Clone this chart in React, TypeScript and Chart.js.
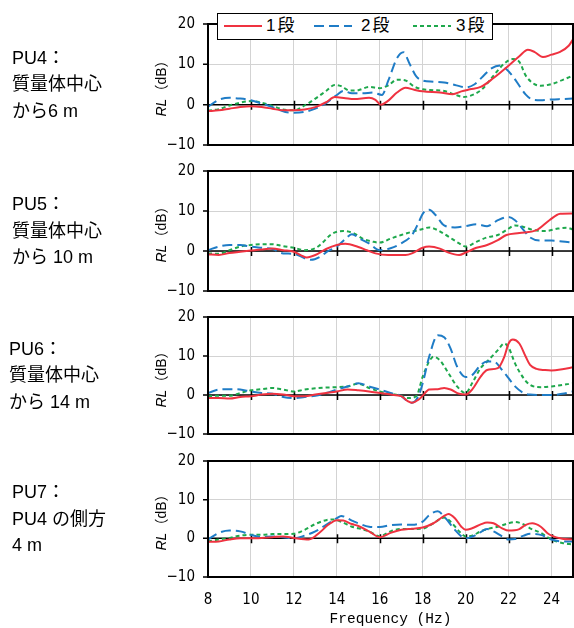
import { useEffect, useRef } from 'react';
import { Chart, registerables } from 'chart.js';

Chart.register(...registerables);

type Pt = [number, number];

// Frequency axis (Hz) and response level axis (dB)
const X_MIN = 8;
const X_MAX = 25;
const X_STEP = 2;
const Y_MIN = -10;
const Y_MAX = 20;
const Y_GRID_STEP = 5;
const Y_LABEL_STEP = 10;

const STAGE_LABELS = ['1段', '2段', '3段'];
const X_TITLE = 'Frequency (Hz)';

// PU4 : 6 m from the mass centre
const PU4_STAGE1: Pt[] = [[8, -1.6], [8.5, -1.4], [9, -1], [9.5, -0.6], [10, -0.4], [10.5, -0.6], [11, -1], [11.5, -1.4], [12, -1.4], [12.5, -1.2], [13, -0.6], [13.5, 0.6], [13.9, 1.9], [14.4, 1.6], [14.8, 1.4], [15.5, 1.7], [15.8, 1.2], [16.05, 0], [16.4, 1], [16.8, 3], [17.2, 4.2], [17.6, 3.7], [18, 3.3], [18.8, 3], [19.4, 2.6], [19.8, 3.3], [20.2, 3.8], [20.7, 4.4], [21.3, 6.6], [21.9, 9.2], [22.5, 12], [22.9, 13.6], [23.2, 13.1], [23.6, 11.8], [24, 12.4], [24.4, 13.1], [24.8, 14.6], [25, 16.2]];
const PU4_STAGE2: Pt[] = [[8, -0.5], [8.5, 1.2], [9, 1.7], [9.5, 1.5], [10, 1.1], [10.5, 0.3], [11, -0.6], [11.6, -1.8], [12, -2], [12.5, -1.8], [13, -1], [13.5, 0.4], [14, 2.4], [14.3, 3.4], [14.7, 2.8], [15.2, 2.8], [15.7, 3], [16.1, 2.4], [16.4, 6], [16.8, 11.5], [17.1, 13], [17.4, 10], [17.7, 7], [18, 6], [18.5, 5.7], [19, 5.5], [19.5, 4.9], [20, 4.3], [20.4, 5], [20.8, 7], [21.2, 9], [21.6, 9.7], [21.9, 8.8], [22.2, 7], [22.5, 4.7], [22.8, 2.5], [23.1, 1.3], [23.5, 1.1], [24, 1.3], [24.5, 1.4], [25, 1.5]];
const PU4_STAGE3: Pt[] = [[8, -1.5], [8.5, -1.1], [9, -0.2], [9.5, 0.5], [10, 0.9], [10.5, 0.5], [11, -0.3], [11.5, -1.2], [12, -1.4], [12.5, -0.2], [13, 1.5], [13.5, 3.4], [13.9, 4.9], [14.2, 4.6], [14.6, 3.5], [15, 3.6], [15.5, 4.4], [16, 4.1], [16.4, 4.8], [16.8, 6.2], [17.2, 6], [17.6, 4.5], [18, 3.8], [18.5, 3.6], [19, 3.4], [19.5, 2.5], [19.9, 1.9], [20.4, 2.6], [20.8, 4], [21.3, 7.2], [21.8, 10.2], [22.2, 11.3], [22.5, 10.6], [22.8, 7.2], [23.2, 5.1], [23.5, 4.7], [24, 5.1], [24.5, 6.1], [25, 7.2]];

// PU5 : 10 m from the mass centre
const PU5_STAGE1: Pt[] = [[8, -0.8], [8.5, -1], [9, -0.5], [9.5, -0.2], [10, 0.1], [10.5, 0.4], [11, 0.6], [11.5, 0.2], [12, -0.2], [12.6, -1.6], [13, -1], [13.5, 0.5], [14, 1.5], [14.4, 1.8], [15, 1], [15.4, 0.2], [15.8, -0.6], [16.4, -1], [17.2, -1], [17.5, -0.6], [18, 0.8], [18.3, 1.1], [18.8, 0.6], [19.2, -0.4], [19.7, -1], [20, -0.4], [20.5, 0.8], [21, 1.5], [21.5, 2.7], [21.9, 4], [22.5, 4.5], [23.3, 5.2], [23.9, 7.7], [24.4, 9.3], [25, 9.4]];
const PU5_STAGE2: Pt[] = [[8, 0.2], [8.5, 1.1], [9, 1.5], [9.5, 1.5], [10, 1.1], [10.5, 0.8], [11, 0.5], [11.5, -0.6], [12, -0.7], [12.5, -1.8], [12.8, -2.2], [13.2, -1.5], [13.6, 0], [14, 1.1], [14.4, 3], [14.7, 4.2], [15.1, 3], [15.5, 1.9], [16, 0.2], [16.5, 0.7], [17, 1.9], [17.5, 4], [17.8, 7], [18, 9.3], [18.3, 10.3], [18.6, 9], [19, 6.4], [19.5, 5.9], [20, 6.2], [20.5, 6.7], [21, 6.2], [21.5, 7.7], [22, 8.5], [22.3, 7.7], [22.7, 5.2], [23, 3.4], [23.5, 2.6], [24, 2.6], [24.5, 2.4], [25, 2.1]];
const PU5_STAGE3: Pt[] = [[8, -0.6], [8.5, -0.7], [9, 0.2], [9.5, 1.1], [10, 1.5], [10.5, 1.7], [11, 1.7], [11.5, 1.2], [12, 0.8], [12.5, 0.2], [13, 0.7], [13.3, 1.9], [13.7, 4], [14, 4.8], [14.3, 5], [14.8, 4.4], [15.2, 3.1], [15.7, 2.3], [16, 2.1], [16.5, 3.1], [17, 4], [17.5, 4.8], [18, 5.5], [18.3, 5.9], [18.7, 5.2], [19.2, 3.6], [19.7, 1.9], [20, 1.1], [20.5, 2.3], [21, 3.4], [21.5, 4], [22, 5.6], [22.3, 6.4], [22.7, 6], [23.2, 5.2], [23.7, 5], [24.3, 5.6], [24.7, 5.8], [25, 5.4]];

// PU6 : 14 m from the mass centre
const PU6_STAGE1: Pt[] = [[8, -0.8], [8.5, -0.8], [9, -0.9], [9.5, -0.5], [10, -0.3], [10.5, 0.1], [11, 0.3], [11.5, 0.1], [12, -0.3], [12.5, -0.3], [13, 0.1], [13.5, 0.5], [14, 0.9], [14.5, 1.4], [15, 1.2], [15.5, 0.9], [16, 0.5], [16.5, 0.1], [17, -0.3], [17.3, -1.6], [17.5, -2], [17.8, -1.2], [18, -0.2], [18.3, 1.4], [18.7, 1.5], [19, 1.8], [19.3, 1.4], [19.7, 0.3], [20, 0.1], [20.3, 1.4], [20.7, 4.7], [21, 6.4], [21.5, 6.9], [21.8, 9.8], [22, 13.2], [22.2, 14.2], [22.5, 13.2], [22.8, 9.8], [23, 7.7], [23.3, 6.7], [23.7, 6.4], [24, 6.3], [24.5, 6.6], [25, 7.1]];
const PU6_STAGE2: Pt[] = [[8, 0.5], [8.5, 1.4], [9, 1.5], [9.5, 1.4], [10, 0.9], [10.5, 0.5], [11, 0.3], [11.5, -0.5], [12, -0.8], [12.5, -0.5], [13, -0.2], [13.5, 0.5], [14, 1.4], [14.5, 2.2], [15, 3], [15.5, 2.2], [16, 1.4], [16.5, 0.5], [17, -0.3], [17.3, -1.6], [17.5, -2], [17.8, -0.3], [18, 3], [18.3, 9.8], [18.7, 15.3], [19, 14.8], [19.3, 11.9], [19.6, 7.3], [20, 4.6], [20.3, 5.1], [20.7, 7.7], [21, 8.6], [21.3, 8.6], [21.7, 6.4], [22, 4.3], [22.3, 2.2], [22.7, 0.5], [23, 0.1], [23.5, 0], [24, 0], [24.5, 0.3], [25, 0.9]];
const PU6_STAGE3: Pt[] = [[8, -0.3], [8.5, -0.2], [9, -0.2], [9.5, 0.5], [10, 1.2], [10.5, 1.5], [11, 1.8], [11.5, 1.4], [12, 0.9], [12.5, 1.4], [13, 1.7], [13.5, 1.9], [14, 2], [14.5, 2.2], [15, 2.9], [15.5, 1.8], [16, 0.9], [16.5, 0.3], [17, -0.2], [17.3, -0.8], [17.7, -0.3], [18, 4.7], [18.3, 8.6], [18.5, 9.8], [18.8, 8.9], [19.2, 5.6], [19.6, 2.2], [20, 0.5], [20.3, 3], [20.7, 6.9], [21, 8.6], [21.5, 11.5], [21.8, 13.2], [22, 12.2], [22.3, 8.1], [22.7, 4.3], [23, 2.6], [23.5, 2], [24, 2.2], [24.5, 2.6], [25, 3]];

// PU7 : 4 m to the side of PU4
const PU7_STAGE1: Pt[] = [[8, -0.9], [8.5, -0.8], [9, -0.3], [9.5, 0], [10, 0], [10.5, 0.1], [11, 0.3], [11.5, 0.5], [12, 0.1], [12.7, -0.3], [13.2, 1.5], [13.6, 3.5], [14, 4.7], [14.3, 4.6], [14.7, 3.7], [15, 3.2], [15.5, 1.8], [16, 0.3], [16.5, 1.4], [17, 2.2], [17.5, 2.5], [18, 2.8], [18.5, 3.9], [19, 5.8], [19.2, 6.3], [19.5, 5.2], [19.8, 3], [20, 2.2], [20.3, 2.6], [20.7, 3.6], [21, 4.1], [21.3, 3.9], [21.7, 2.6], [22, 2], [22.5, 2.4], [22.8, 3.5], [23.1, 3.9], [23.5, 3], [23.8, 1.4], [24, 0.7], [24.5, -0.1], [25, -0.3]];
const PU7_STAGE2: Pt[] = [[8, -0.3], [8.5, 1.4], [9, 2], [9.5, 1.8], [10, 0.9], [10.5, 0.3], [11, 0.5], [11.5, 0.3], [12, 0], [12.5, 0.7], [13, 1.8], [13.5, 3.5], [14, 5.2], [14.2, 5.8], [14.7, 4.6], [15, 3.9], [15.5, 3], [16, 2.9], [16.5, 3.4], [17, 3.6], [17.5, 3.5], [18, 4.3], [18.3, 6], [18.7, 7], [19, 5.6], [19.5, 2.2], [19.8, 0.5], [20, 0], [20.5, 0.9], [21, 2.4], [21.3, 1.8], [21.7, 0.5], [22, -0.3], [22.3, -0.2], [22.7, 0.7], [23, 1.2], [23.5, 0.9], [24, -0.3], [24.5, -0.8], [25, -0.8]];
const PU7_STAGE3: Pt[] = [[8, -0.8], [8.5, -0.3], [9, 0.1], [9.5, 0.7], [10, 0.9], [10.5, 0.9], [11, 1.1], [11.5, 1.1], [12, 1.2], [12.5, 2.2], [13, 3.7], [13.5, 4.7], [13.8, 4.9], [14.2, 4.3], [14.7, 3], [15, 2.6], [15.5, 1.8], [16, 0.5], [16.5, 1.8], [17, 2.4], [17.5, 2.4], [18, 2.5], [18.5, 3.9], [19, 5.4], [19.3, 4.3], [19.7, 1.8], [20, 0.5], [20.3, 0.7], [20.7, 1.8], [21, 2.4], [21.5, 3], [22, 3.9], [22.3, 4.2], [22.7, 3.6], [23, 2.6], [23.5, 1.4], [24, -0.3], [24.5, -1.2], [25, -1.6]];

const PANEL_SERIES: Pt[][][] = [
  [PU4_STAGE1, PU4_STAGE2, PU4_STAGE3],
  [PU5_STAGE1, PU5_STAGE2, PU5_STAGE3],
  [PU6_STAGE1, PU6_STAGE2, PU6_STAGE3],
  [PU7_STAGE1, PU7_STAGE2, PU7_STAGE3],
];

const PANEL_CAPTIONS: string[][] = [
  ['PU4：', '質量体中心', 'から6 m'],
  ['PU5：', '質量体中心', 'から 10 m'],
  ['PU6：', '質量体中心', 'から 14 m'],
  ['PU7：', 'PU4 の側方', '4 m'],
];

// Layout (page pixels)
const PLOT_BOXES: [number, number][] = [[24, 145], [171, 291], [317, 434], [461, 577]];
const CAPTION_LEFT = [12, 12, 9, 12];
const CANVAS_LEFT = 150;
const CANVAS_WIDTH = 424;
const Y_AXIS_WIDTH = 58;
const PAD_V = 12;
const PAGE_H = 628;

const LINE_STYLES = [
  { color: '#ef3240', dash: [] as number[] },
  { color: '#1f7cc6', dash: [10, 5] },
  { color: '#1ea84c', dash: [4, 3] },
];

const TICK_FONT = "'Liberation Sans Narrow', 'DejaVu Sans Condensed', sans-serif";
const TEXT_FONT = "'Liberation Sans', 'Noto Sans CJK JP', sans-serif";

const frame = {
  id: 'panelFrame',
  beforeDatasetsDraw(chart: any) {
    const { ctx, chartArea, scales } = chart;
    const y0 = scales.y.getPixelForValue(0);
    ctx.save();
    ctx.strokeStyle = '#000';
    ctx.lineWidth = 1.5;
    ctx.beginPath();
    ctx.moveTo(chartArea.left, y0);
    ctx.lineTo(chartArea.right, y0);
    for (let f = X_MIN + X_STEP; f < X_MAX; f += X_STEP) {
      const x = Math.round(scales.x.getPixelForValue(f)) + 0.5;
      ctx.moveTo(x, y0 - 4);
      ctx.lineTo(x, y0 + 5);
    }
    ctx.stroke();
    ctx.restore();
  },
  afterDraw(chart: any) {
    const { ctx, chartArea, scales } = chart;
    ctx.save();
    ctx.strokeStyle = '#000';
    ctx.lineWidth = 2;
    ctx.strokeRect(chartArea.left, chartArea.top, chartArea.right - chartArea.left, chartArea.bottom - chartArea.top);
    ctx.lineWidth = 1.5;
    ctx.beginPath();
    for (let v = Y_MIN; v <= Y_MAX; v += Y_LABEL_STEP) {
      const y = scales.y.getPixelForValue(v);
      ctx.moveTo(chartArea.left - 5, y);
      ctx.lineTo(chartArea.left, y);
    }
    ctx.stroke();
    ctx.restore();
  },
};

function Panel({ index }: { index: number }) {
  const ref = useRef<HTMLCanvasElement>(null);
  const [top, bottom] = PLOT_BOXES[index];
  const last = index === PLOT_BOXES.length - 1;
  const canvasTop = top - PAD_V;
  const canvasH = last ? PAGE_H - canvasTop : bottom + PAD_V - canvasTop;

  useEffect(() => {
    const series = PANEL_SERIES[index];
    const chart = new Chart(ref.current!, {
      type: 'line',
      data: {
        datasets: series.map((pts, i) => ({
          label: STAGE_LABELS[i],
          data: pts.map(([x, y]) => ({ x, y })),
          borderColor: LINE_STYLES[i].color,
          borderDash: LINE_STYLES[i].dash,
          borderWidth: 2,
          pointRadius: 0,
          fill: false,
          cubicInterpolationMode: 'monotone' as const,
        })),
      },
      options: {
        responsive: false,
        animation: false,
        events: [],
        layout: { padding: { top: PAD_V, bottom: last ? 0 : PAD_V, left: 0, right: 1 } },
        plugins: { legend: { display: false }, tooltip: { enabled: false } },
        scales: {
          x: {
            type: 'linear',
            min: X_MIN,
            max: X_MAX,
            border: { display: false },
            grid: { color: '#d3d3d3', lineWidth: 1, drawTicks: false },
            ticks: {
              display: last,
              stepSize: X_STEP,
              includeBounds: false,
              autoSkip: false,
              maxRotation: 0,
              padding: 14,
              color: '#000',
              font: { family: TICK_FONT, size: 15 },
            },
            title: {
              display: last,
              text: X_TITLE,
              color: '#000',
              padding: { top: 0, bottom: 0 },
              font: { family: "'Liberation Mono', 'DejaVu Sans Mono', monospace", size: 14.5 },
            },
            afterFit: (s: any) => {
              s.height = last ? PAGE_H - bottom : 0;
              s.paddingLeft = 0;
              s.paddingRight = 0;
              s.paddingTop = 0;
              s.paddingBottom = 0;
            },
          },
          y: {
            min: Y_MIN,
            max: Y_MAX,
            border: { display: false },
            grid: { color: '#d3d3d3', lineWidth: 1, drawTicks: false },
            ticks: {
              stepSize: Y_GRID_STEP,
              padding: 13,
              color: '#000',
              font: { family: TICK_FONT, size: 15 },
              callback: (v: any) => (v % Y_LABEL_STEP === 0 ? (v < 0 ? '−' + Math.abs(v) : String(v)) : ''),
            },
            afterFit: (s: any) => {
              s.width = Y_AXIS_WIDTH;
              s.paddingTop = 0;
              s.paddingBottom = 0;
              s.paddingLeft = 0;
              s.paddingRight = 0;
            },
          },
        },
      },
      plugins: [frame],
    });
    return () => chart.destroy();
  }, [index]);

  const mid = (top + bottom) / 2;
  return (
    <>
      <canvas
        ref={ref}
        width={CANVAS_WIDTH}
        height={canvasH}
        style={{ position: 'absolute', left: CANVAS_LEFT, top: canvasTop, width: CANVAS_WIDTH, height: canvasH }}
      />
      <div
        style={{
          position: 'absolute',
          left: 160,
          top: mid,
          transform: 'translate(-50%, -50%) rotate(-90deg)',
          whiteSpace: 'nowrap',
          fontFamily: TEXT_FONT,
          fontSize: 14,
          color: '#000',
        }}
      >
        <i>RL</i>（dB）
      </div>
      <div
        style={{
          position: 'absolute',
          left: CAPTION_LEFT[index],
          top: mid - 40,
          fontFamily: TEXT_FONT,
          fontSize: 18,
          lineHeight: '26.5px',
          color: '#000',
          whiteSpace: 'nowrap',
        }}
      >
        {PANEL_CAPTIONS[index].map((t) => (
          <div key={t}>{t}</div>
        ))}
      </div>
    </>
  );
}

function Legend() {
  const items = [
    { lineX: 6, textX: 48 },
    { lineX: 96, textX: 143 },
    { lineX: 195, textX: 238 },
  ];
  return (
    <div
      style={{
        position: 'absolute',
        left: 217,
        top: 13,
        width: 276,
        height: 27,
        boxSizing: 'border-box',
        border: '1.5px solid #000',
        background: '#fff',
        fontFamily: TEXT_FONT,
        fontSize: 17,
        color: '#000',
      }}
    >
      {items.map((it, i) => (
        <div key={i}>
          <svg style={{ position: 'absolute', left: it.lineX, top: 0 }} width={40} height={24}>
            <line
              x1={0}
              x2={38}
              y1={12}
              y2={12}
              stroke={LINE_STYLES[i].color}
              strokeWidth={2}
              strokeDasharray={LINE_STYLES[i].dash.join(' ') || undefined}
            />
          </svg>
          <span style={{ position: 'absolute', left: it.textX, top: 0, lineHeight: '24px', letterSpacing: 2 }}>
            {STAGE_LABELS[i]}
          </span>
        </div>
      ))}
    </div>
  );
}

export default function App() {
  return (
    <div style={{ position: 'absolute', left: 0, top: 0, width: 574, height: PAGE_H, background: '#fff', overflow: 'hidden' }}>
      {PLOT_BOXES.map((_, i) => (
        <Panel key={i} index={i} />
      ))}
      <Legend />
    </div>
  );
}
